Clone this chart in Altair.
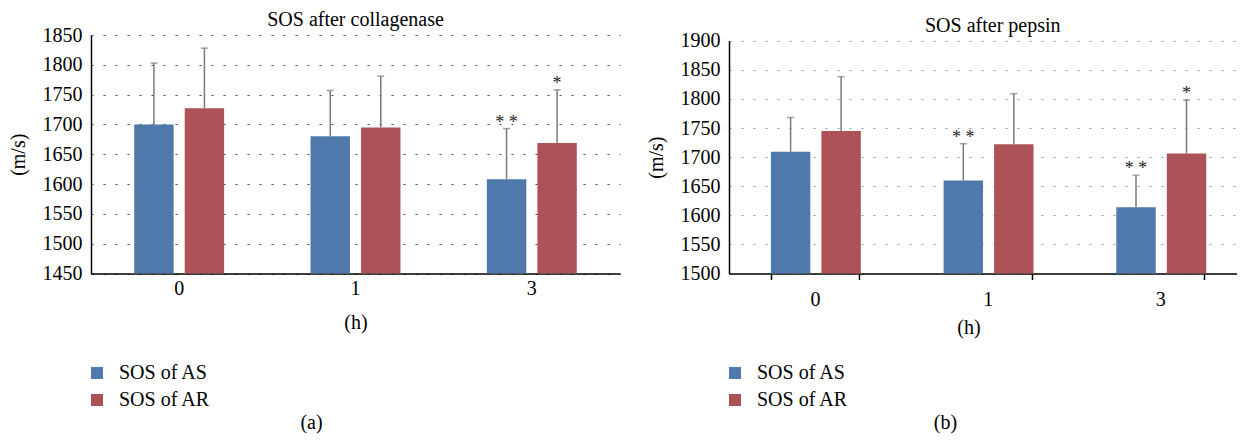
import altair as alt
import pandas as pd

FONT = "Liberation Serif"

hours = ["0", "1", "3"]
series = ["SOS of AS", "SOS of AR"]
colors = ["#4e79aa", "#ad5256"]
captions = ["(a)", "(b)"]
titles = ["SOS after collagenase", "SOS after pepsin"]

# Panel (a): collagenase
coll_as = [1700, 1680, 1608]
coll_as_sd = [103, 77, 85]
coll_ar = [1727, 1695, 1669]
coll_ar_sd = [101, 86, 89]
coll_as_sig = ["", "", "* *"]
coll_ar_sig = ["", "", "*"]
coll_ticks = [1450, 1500, 1550, 1600, 1650, 1700, 1750, 1800, 1850]

# Panel (b): pepsin
pep_as = [1709, 1660, 1614]
pep_as_sd = [59, 63, 55]
pep_ar = [1745, 1722, 1706]
pep_ar_sd = [93, 87, 92]
pep_as_sig = ["", "* *", "* *"]
pep_ar_sig = ["", "", "*"]
pep_ticks = [1500, 1550, 1600, 1650, 1700, 1750, 1800, 1850, 1900]


def frame(as_v, as_sd, ar_v, ar_sd, as_sig, ar_sig):
    rows = []
    for i, h in enumerate(hours):
        rows.append({"hour": h, "series": series[0], "mean": as_v[i], "sd": as_sd[i], "sig": as_sig[i]})
        rows.append({"hour": h, "series": series[1], "mean": ar_v[i], "sd": ar_sd[i], "sig": ar_sig[i]})
    return pd.DataFrame(rows)


def panel(df, title, title_offset, title_dx, ticks, yrange, width, xscale, x_axis, grid_color,
          caption, cap_x, legend_x):
    base = alt.Chart(df).transform_calculate(top="datum.mean + datum.sd")
    x = alt.X("hour:N", sort=hours, scale=xscale, axis=x_axis)
    xo = alt.XOffset("series:N", sort=series,
                     scale=alt.Scale(paddingInner=0.22, paddingOuter=0))
    sc = {"domain": [ticks[0], ticks[-1]], "zero": False, "nice": False}
    if yrange is not None:
        sc["range"] = yrange
    yscale = alt.Scale(**sc)
    yaxis = alt.Axis(values=ticks, format="d", grid=True, gridDash=[2, 10],
                     gridColor=grid_color, gridWidth=1.2, ticks=False, labelOverlap=False,
                     domainColor="black", domainWidth=1.5,
                     labelFont=FONT, labelFontSize=20, labelColor="black", labelPadding=9,
                     title="(m/s)", titleFont=FONT, titleFontSize=20,
                     titleFontWeight="normal", titleColor="black", titlePadding=14)

    def Y(field):
        return alt.Y(field, type="quantitative", scale=yscale, axis=yaxis)

    bars = base.mark_bar().encode(
        x=x, xOffset=xo,
        y=Y("mean"),
        y2=alt.datum(ticks[0]),
        color=alt.Color("series:N", sort=series,
                        scale=alt.Scale(domain=series, range=colors),
                        legend=alt.Legend(title=None, orient="none", legendX=legend_x, legendY=328,
                                          direction="vertical", symbolType="square",
                                          symbolSize=144, symbolStrokeWidth=0,
                                          labelFont=FONT, labelFontSize=20, labelColor="black",
                                          labelOffset=12, rowPadding=7, padding=0, labelLimit=300)),
    )
    err = base.mark_rule(color="#7a7a7a", strokeWidth=1.5).encode(
        x=x, xOffset=xo, y=Y("mean"), y2="top:Q")
    cap = base.mark_tick(orient="horizontal", size=7, thickness=1.5, color="#7a7a7a").encode(
        x=x, xOffset=xo, y=Y("top"))
    sig = base.mark_text(font=FONT, fontSize=18, baseline="alphabetic", dy=-1, color="#222").encode(
        x=x, xOffset=xo, y=Y("top"), text="sig:N")
    capt = alt.Chart(pd.DataFrame({"t": [caption]})).mark_text(
        font=FONT, fontSize=20, baseline="alphabetic", color="black").encode(
        text="t:N", x=alt.value(cap_x), y=alt.value(394))
    return alt.layer(bars, err, cap, sig, capt).properties(
        width=width, height=238.5,
        title=alt.TitleParams(text=title, offset=title_offset, dx=title_dx, font=FONT, fontSize=20,
                              fontWeight="normal", color="black"),
    )


xa_left = alt.Axis(title="(h)", labelAngle=0, ticks=False, domainColor="black", domainWidth=1.5,
                   labelFont=FONT, labelFontSize=20, labelColor="black", labelPadding=5,
                   titleFont=FONT, titleFontSize=20, titleFontWeight="normal", titleColor="black",
                   titleX=264.5, titleY=55, titleBaseline="alphabetic")
xa_right = alt.Axis(title="(h)", labelAngle=0, ticks=True, tickBand="extent", tickSize=6,
                    tickColor="black", tickWidth=1.5, domainColor="black", domainWidth=1.5,
                    labelFont=FONT, labelFontSize=20, labelColor="black", labelPadding=10,
                    titleFont=FONT, titleFontSize=20, titleFontWeight="normal", titleColor="black",
                    titleX=239.5, titleY=60, titleBaseline="alphabetic")

xs_left = alt.Scale(paddingInner=0.49, paddingOuter=0.245)
xs_right = alt.Scale(paddingInner=0.49, paddingOuter=0.2143, align=0.566)

left = panel(frame(coll_as, coll_as_sd, coll_ar, coll_ar_sd, coll_as_sig, coll_ar_sig),
             titles[0], -5, 0, coll_ticks, None, 529, xs_left, xa_left, "#444",
             captions[0], 220.5, -4)
right = panel(frame(pep_as, pep_as_sd, pep_ar, pep_ar_sd, pep_as_sig, pep_ar_sig),
              titles[1], -5.3, 10, pep_ticks, [238.5, 5.7], 507.5, xs_right, xa_right, "#999",
              captions[1], 216.5, -4)

chart = alt.hconcat(left, right, spacing=109, bounds="flush").resolve_scale(
    color="independent", x="independent", y="independent").resolve_legend(
    color="independent").properties(padding={"left": 0, "top": 2, "right": 0, "bottom": 0}
).configure(font=FONT).configure_view(strokeWidth=0).configure_axis(
    labelFont=FONT, titleFont=FONT).configure_legend(labelFont=FONT).configure_title(
    font=FONT).configure_text(font=FONT)

chart.save("out.html", embed_options={"renderer": "svg", "actions": False})
